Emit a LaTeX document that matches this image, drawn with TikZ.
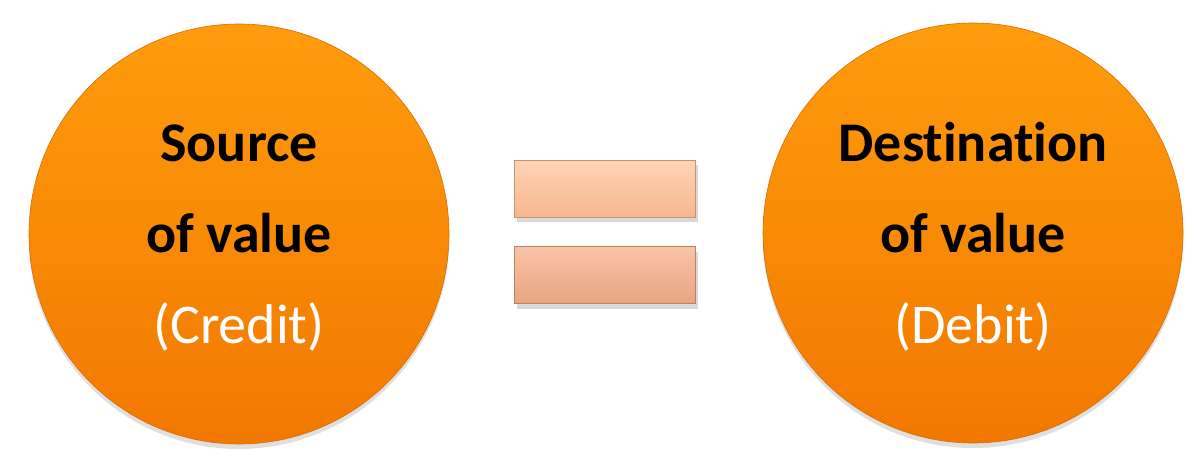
\documentclass[tikz,border=0pt]{standalone}
\usepackage{fontspec}
\setmainfont{Carlito}[Ligatures=NoCommon]
\usepackage{xcolor}
\usetikzlibrary{positioning,shadows}
\definecolor{orangetop}{HTML}{FF9C0C}
\definecolor{orangebot}{HTML}{F27800}
\definecolor{peachtop}{HTML}{FFD4B6}
\definecolor{peachbot}{HTML}{F8B690}
\definecolor{salmontop}{HTML}{F8C4A6}
\definecolor{salmonbot}{HTML}{E9A482}

\begin{document}
\begin{tikzpicture}[
  x=0.5pt,y=-0.5pt,
  disc/.style={circle,minimum size=210pt,inner sep=0pt,align=center,
    top color=orangetop,bottom color=orangebot,draw=orangebot!90!black,line width=0.3pt,
    drop shadow={shadow xshift=0pt,shadow yshift=-2.5pt,opacity=0.25},
    font=\fontsize{28}{45.5}\selectfont},
  bar/.style={rectangle,minimum width=90.5pt,minimum height=28.5pt,inner sep=0pt,
    draw=#1bot!80!black,line width=0.3pt,
    drop shadow={shadow xshift=1.5pt,shadow yshift=-2.5pt,opacity=0.3}},
  bar/.default=peach
]
\useasboundingbox (0,0) rectangle (1202,460);
\node[disc] (source) at (239,234) {};
\node[align=center,font=\fontsize{28}{45.5}\selectfont] (sourcetext) at (source.center) [yshift=-2pt] {
  \textbf{Source}\\
  \textbf{of value}\\
  \textcolor{white}{(Credit)}
};
\node[disc] (dest) at (973,233) {};
\node[align=center,font=\fontsize{28}{45.5}\selectfont] (desttext) at (dest.center) [yshift=-2pt] {
  \textbf{Destination}\\
  \textbf{of value}\\
  \textcolor{white}{(Debit)}
};
\node[bar=peach,top color=peachtop,bottom color=peachbot] (upper) at (604.5,188.5) {};
\node[bar=salmon,top color=salmontop,bottom color=salmonbot] (lower) at (604.5,275) {};
\end{tikzpicture}
\end{document}
